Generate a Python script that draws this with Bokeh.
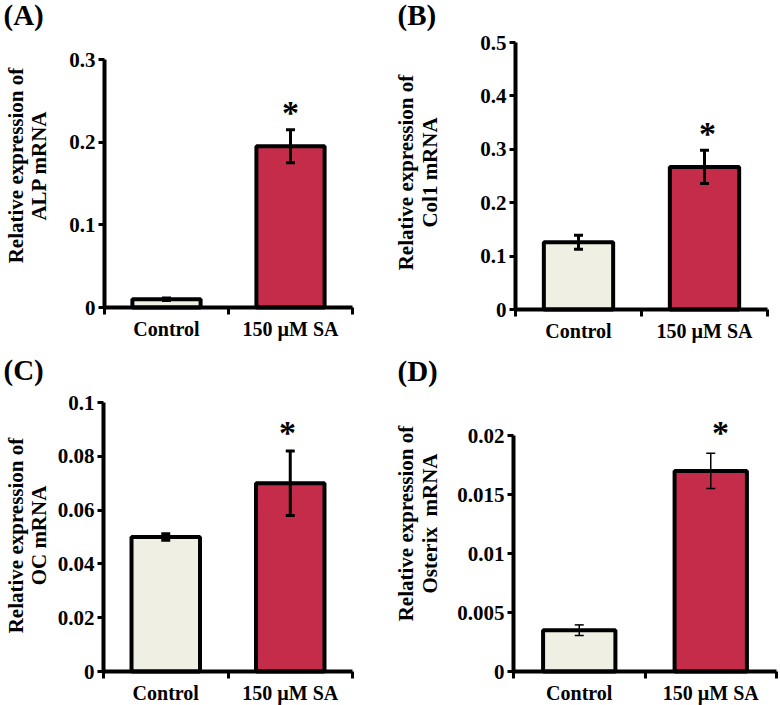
import numpy as np
from bokeh.plotting import figure
from bokeh.layouts import row, column
from bokeh.models import (Range1d, FixedTicker, Label, Whisker, TeeHead, ColumnDataSource,
                          LinearAxis)
from bokeh.embed import file_html
from bokeh.resources import INLINE

# ---------------- data ----------------
categories = ["Control", "150 µM SA"]
bar_colors = ["#EFEFE3", "#C42C4A"]

alp_mean = [0.010, 0.195]
alp_err = [0.0015, 0.020]
col1_mean = [0.126, 0.267]
col1_err = [0.013, 0.031]
oc_mean = [0.050, 0.070]
oc_err = [0.0012, 0.012]
osx_mean = [0.0035, 0.0170]
osx_err = [0.00045, 0.0015]

alp_ticks = [0, 0.1, 0.2, 0.3]
alp_tick_labels = ["0", "0.1", "0.2", "0.3"]
col1_ticks = [0, 0.1, 0.2, 0.3, 0.4, 0.5]
col1_tick_labels = ["0", "0.1", "0.2", "0.3", "0.4", "0.5"]
oc_ticks = [0, 0.02, 0.04, 0.06, 0.08, 0.1]
oc_tick_labels = ["0", "0.02", "0.04", "0.06", "0.08", "0.1"]
osx_ticks = [0, 0.005, 0.01, 0.015, 0.02]
osx_tick_labels = ["0", "0.005", "0.01", "0.015", "0.02"]

panel_letters = ["(A)", "(B)", "(C)", "(D)"]
gene_labels = ["ALP mRNA", "Col1 mRNA", "OC mRNA", "Osterix\u00a0 mRNA"]
title_line1 = "Relative expression of"
significance = "*"

FONT = "Liberation Serif"
TXT_SHIFT = 11  # empirical offset of Label text relative to its anchor


def make_panel(means, errs, ticks, tick_labels, origin, size, frame,
               letter, letter_px, gene, title_px, star_px, err_lw):
    ox, oy = origin
    w, h = size
    L, R, T, B = frame          # where x=0, x=2, y=ymax, y=0 fall (page pixels)
    ymax = ticks[-1]

    def dx(px):
        return (px - L) / (R - L) * 2.0

    def dy(py):
        return (B - py) / (B - T) * ymax

    p = figure(width=w, height=h, output_backend="svg", toolbar_location=None,
               x_range=Range1d(dx(ox), dx(ox + w)), y_range=Range1d(dy(oy + h), dy(oy)),
               x_axis_location=None, y_axis_location=None,
               min_border=0, min_border_left=0, min_border_right=0,
               min_border_top=0, min_border_bottom=0,
               background_fill_color="white", border_fill_color="white")
    p.outline_line_color = None
    p.grid.visible = False

    xs = [0.5, 1.5]
    src = ColumnDataSource(dict(x=xs, top=means, color=bar_colors,
                                upper=[m + e for m, e in zip(means, errs)],
                                lower=[m - e for m, e in zip(means, errs)]))
    p.vbar(x="x", top="top", width=0.55, bottom=0, source=src, fill_color="color",
           line_color="black", line_width=4)
    wh = Whisker(source=src, base="x", upper="upper", lower="lower", level="overlay",
                 line_color="black", line_width=err_lw,
                 upper_head=TeeHead(size=9, line_width=err_lw, line_color="black"),
                 lower_head=TeeHead(size=9, line_width=err_lw, line_color="black"))
    p.add_layout(wh)

    # y axis
    ya = LinearAxis(fixed_location=0, bounds=(0, ymax))
    ya.ticker = FixedTicker(ticks=ticks, minor_ticks=[])
    ya.major_label_overrides = {t: s for t, s in zip(ticks, tick_labels)}
    ya.axis_line_width = 4
    ya.axis_line_color = "black"
    ya.major_tick_out = 6
    ya.major_tick_in = 0
    ya.major_tick_line_width = 3
    ya.major_tick_line_color = "black"
    ya.minor_tick_line_color = None
    ya.major_label_standoff = 3
    ya.major_label_text_font = FONT
    ya.major_label_text_font_style = "bold"
    ya.major_label_text_font_size = "21px"
    ya.major_label_text_color = "black"
    p.add_layout(ya, "left")

    # x axis
    xa = LinearAxis(fixed_location=0, bounds=(0, 2))
    xa.ticker = FixedTicker(ticks=xs, minor_ticks=[0, 1, 2])
    xa.major_label_overrides = {x: c for x, c in zip(xs, categories)}
    xa.axis_line_width = 4
    xa.axis_line_color = "black"
    xa.major_tick_line_color = None
    xa.major_tick_out = 0
    xa.major_tick_in = 0
    xa.minor_tick_out = 7
    xa.minor_tick_in = 0
    xa.minor_tick_line_width = 3
    xa.minor_tick_line_color = "black"
    xa.major_label_standoff = 3
    xa.major_label_text_font = FONT
    xa.major_label_text_font_style = "bold"
    xa.major_label_text_font_size = "20px"
    xa.major_label_text_color = "black"
    p.add_layout(xa, "below")

    # panel letter
    p.add_layout(Label(x=dx(letter_px[0]), y=dy(letter_px[1] - TXT_SHIFT), text=letter,
                       text_font=FONT, text_font_style="bold", text_font_size="29px",
                       text_color="black", text_align="left", text_baseline="alphabetic"))
    # y title (two lines, rotated)
    tx1, tx2, ty = title_px
    for xx, txt in ((tx1, title_line1), (tx2, gene)):
        p.add_layout(Label(x=dx(xx - TXT_SHIFT), y=dy(ty), text=txt, angle=np.pi / 2,
                           text_font=FONT, text_font_style="bold", text_font_size="21px",
                           text_color="black", text_align="center",
                           text_baseline="alphabetic"))
    # significance star
    p.add_layout(Label(x=dx(star_px[0]), y=dy(star_px[1] + 16 - TXT_SHIFT), text=significance,
                       text_font=FONT, text_font_style="bold", text_font_size="34px",
                       text_color="black", text_align="center", text_baseline="alphabetic"))
    return p


pA = make_panel(alp_mean, alp_err, alp_ticks, alp_tick_labels, (0, 0), (390, 343),
                (104, 352, 59, 307), panel_letters[0], (3, 25), gene_labels[0],
                (26, 49, 165), (290, 107), 3)
pB = make_panel(col1_mean, col1_err, col1_ticks, col1_tick_labels, (390, 0), (390, 343),
                (515, 767, 42, 309), panel_letters[1], (397, 25), gene_labels[1],
                (416, 440, 172), (707, 128), 3)
pC = make_panel(oc_mean, oc_err, oc_ticks, oc_tick_labels, (0, 343), (390, 362),
                (103, 352, 402, 671), panel_letters[2], (3, 380), gene_labels[2],
                (26, 49, 535), (287, 427), 3)
pD = make_panel(osx_mean, osx_err, osx_ticks, osx_tick_labels, (390, 343), (390, 362),
                (513, 776, 435, 671), panel_letters[3], (397, 381), gene_labels[3],
                (416, 440, 523), (720, 427), 1.5)

layout = column(row(pA, pB), row(pC, pD))
open("out.html", "w").write(file_html(layout, INLINE))
